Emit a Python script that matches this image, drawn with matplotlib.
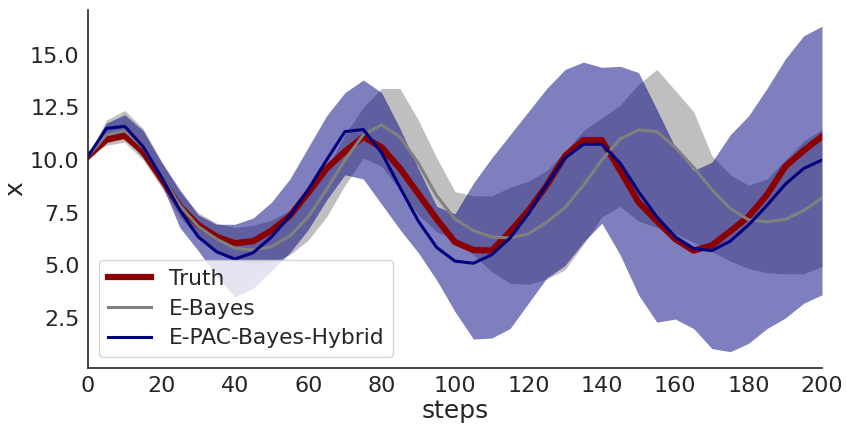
import numpy as np
import matplotlib
matplotlib.use('agg')
import matplotlib.pyplot as plt

# sampled every 5 steps
steps = np.arange(0, 201, 5)

truth = [10.17, 10.96, 11.15, 10.4, 9.1, 7.8, 6.92, 6.36, 6.05, 6.15,
         6.65, 7.35, 8.45, 9.6, 10.4, 11.1, 10.6, 9.6, 8.4, 7.2,
         6.1, 5.73, 5.7, 6.6, 7.6, 8.8, 10.2, 10.95, 10.95, 9.5,
         8.0, 7.1, 6.25, 5.7, 5.95, 6.62, 7.32, 8.35, 9.7, 10.45, 11.12]

e_bayes = [10.17, 11.2, 11.4, 10.6, 9.25, 7.85, 6.85, 6.25, 5.82, 5.72,
           5.89, 6.4, 7.3, 8.6, 10.0, 11.2, 11.67, 11.1, 9.85, 8.3,
           7.2, 6.65, 6.35, 6.3, 6.5, 7.05, 7.75, 8.8, 10.0, 11.0,
           11.43, 11.35, 10.6, 9.65, 8.6, 7.7, 7.16, 7.07, 7.18, 7.6, 8.2]
e_bayes_lo = [10.17, 10.7, 10.85, 10.0, 8.7, 7.3, 6.3, 5.6, 5.2, 5.05,
              5.15, 5.5, 6.2, 7.3, 8.8, 10.1, 9.7, 8.6, 7.4, 6.6,
              6.2, 5.5, 4.7, 4.15, 4.1, 4.35, 4.8, 6.0, 7.3, 7.8,
              7.1, 6.8, 6.5, 6.1, 5.65, 5.2, 4.85, 4.65, 4.6, 4.6, 4.95]
e_bayes_hi = [10.17, 11.9, 12.35, 11.5, 9.95, 8.5, 7.5, 7.0, 6.8, 6.9,
              7.15, 7.6, 8.3, 9.6, 11.2, 12.5, 13.4, 13.4, 11.9, 10.1,
              8.5, 8.3, 8.3, 8.7, 9.0, 9.5, 10.4, 11.4, 12.0, 12.6,
              13.6, 14.3, 13.3, 12.3, 10.2, 9.3, 8.8, 9.1, 10.0, 10.9, 11.45]

hybrid = [10.17, 11.5, 11.6, 10.64, 9.2, 7.63, 6.36, 5.65, 5.3, 5.6,
          6.35, 7.35, 8.6, 10.0, 11.35, 11.45, 10.35, 8.7, 7.1, 5.85,
          5.2, 5.1, 5.5, 6.3, 7.45, 8.85, 10.1, 10.75, 10.75, 9.85,
          8.5, 7.3, 6.35, 5.8, 5.7, 6.15, 6.92, 7.85, 8.85, 9.6, 10.0]
hybrid_lo = [10.17, 11.0, 11.1, 10.1, 8.9, 6.8, 5.7, 4.5, 3.5, 3.9,
             4.75, 5.6, 6.7, 8.1, 9.3, 9.1, 7.9, 6.7, 5.6, 4.3,
             2.8, 1.5, 1.55, 2.0, 3.2, 4.4, 5.0, 6.1, 7.0, 5.5,
             3.6, 2.3, 2.45, 2.0, 1.05, 0.9, 1.3, 2.0, 2.5, 3.2, 3.6]
hybrid_hi = [10.17, 11.75, 12.15, 11.4, 9.9, 8.6, 7.4, 6.95, 6.95, 7.25,
             8.0, 9.1, 10.6, 12.1, 13.2, 13.8, 13.2, 11.5, 9.6, 7.8,
             7.45, 8.9, 10.1, 11.2, 12.3, 13.4, 14.3, 14.65, 14.4, 14.45,
             14.15, 12.4, 10.6, 9.5, 9.9, 11.2, 12.1, 13.4, 14.8, 15.9, 16.35]

xticks = list(range(0, 201, 20))

plt.rcParams['font.family'] = ['DejaVu Sans']
plt.rcParams['text.color'] = '.15'
plt.rcParams['axes.labelcolor'] = '.15'
plt.rcParams['xtick.color'] = '.15'
plt.rcParams['ytick.color'] = '.15'

fig = plt.figure(figsize=(8.47, 4.26), dpi=100)
ax = fig.add_axes([0.1039, 0.1362, 0.8666, 0.8403])

ax.fill_between(steps, e_bayes_lo, e_bayes_hi, color='gray', alpha=0.5, lw=0)
ax.fill_between(steps, hybrid_lo, hybrid_hi, color='navy', alpha=0.5, lw=0)
ax.plot(steps, truth, color='darkred', lw=4.5, label='Truth')
ax.plot(steps, e_bayes, color='gray', lw=2.2, label='E-Bayes')
ax.plot(steps, hybrid, color='navy', lw=2.2, label='E-PAC-Bayes-Hybrid')

ax.set_xlim(0, 200)
ax.set_xticks(xticks)
ax.set_xlabel('steps', fontsize=18, labelpad=2)
ax.set_ylabel('x', fontsize=18, labelpad=2)
ax.tick_params(labelsize=16, length=0, pad=6)
for s in ['top', 'right']:
    ax.spines[s].set_visible(False)
for s in ['left', 'bottom']:
    ax.spines[s].set_color('.15')
    ax.spines[s].set_linewidth(1.2)
ax.legend(loc='lower left', fontsize=15.7, handlelength=2.0, labelspacing=0.45)

fig.savefig('out.png', dpi=100)
